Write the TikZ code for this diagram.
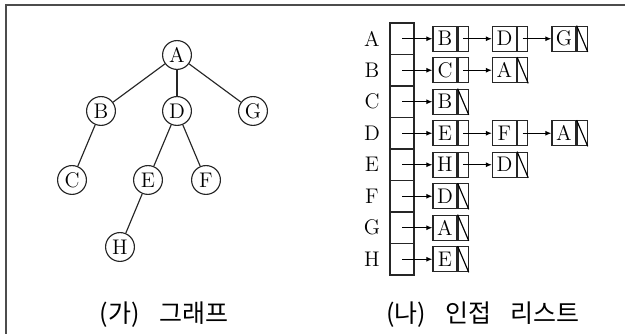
\documentclass[tikz,border=0pt]{standalone}
\usepackage{fontspec}
\newfontfamily\krfont{Noto Sans CJK KR}
\usetikzlibrary{arrows.meta, positioning}

\begin{document}
\begin{tikzpicture}[x=0.52pt, y=-0.52pt, >={Latex[length=3.2pt, width=2.6pt]}, font=\fontsize{11}{13}\selectfont]
		\tikzstyle{round} = [draw=black!85, circle, line width=0.6pt, minimum size=15pt, inner sep=0pt]
		\tikzstyle{cell} = [draw=black!85, rectangle, line width=0.6pt, minimum width=12.5pt, minimum height=16.4pt, inner sep=0pt]
		\tikzstyle{item} = [draw=black!85, rectangle, line width=0.6pt, minimum width=12.5pt, minimum height=13pt, inner sep=0pt]
		\tikzstyle{link} = [draw=black!85, rectangle, line width=0.6pt, minimum width=5.2pt, minimum height=13pt, inner sep=0pt]
		\tikzstyle{caption} = [font=\krfont\fontsize{13}{15}\selectfont]
		\tikzstyle{arrow} = [->, line width=0.55pt]
		
		\useasboundingbox (0,0) rectangle (625,334);
		\draw[line width=1pt, black!70] (625,5) -- (6,5) -- (6,334);
		
		% (ga) graph
		\node[round] 	at (177, 55)	(A) 	{A};
		\node[round] 	at (101, 111)	(B) 	{B};
		\node[round] 	at (177, 111)	(D) 	{D};
		\node[round] 	at (253, 111)	(G) 	{G};
		\node[round] 	at (72, 180)	(C) 	{C};
		\node[round] 	at (148, 180)	(E) 	{E};
		\node[round] 	at (206, 180)	(F) 	{F};
		\node[round] 	at (120, 247)	(H) 	{H};
		
		\path[line width=0.6pt, draw=black!85]
		(A) 	edge 	(B)
			edge 	(D)
			edge 	(G)
		(B) 	edge 	(C)
		(D) 	edge 	(E)
			edge 	(F)
		(E) 	edge 	(H);
		
		\node[caption] 	at (164, 315)	(cap1) 	{(가)\hspace{10pt}그래프};
		
		% (na) adjacency list
		\foreach \v/\lst/\n [count=\r, evaluate=\r as \y using 7.25+31.5*\r] in
			{A/{B,D,G}/3, B/{C,A}/2, C/{B}/1, D/{E,F,A}/3, E/{H,D}/2, F/{D}/1, G/{A}/1, H/{E}/1} {
			\node 		at (372, \y)	(l\v) 	{\v};
			\node[cell] 	at (402, \y)	(c\v) 	{};
			\foreach \w [count=\j, remember=\j as \i (initially 0)] in \lst {
				\node[item] 	at ({445+59.5*(\j-1)}, \y)	(d\v\j) 	{\w};
				\node[link, right=0pt of d\v\j] 	(p\v\j) 	{};
				\ifnum\i=0
					\draw[arrow] (c\v.center) -- (d\v\j);
				\else
					\draw[arrow] (p\v\i.center) -- (d\v\j);
				\fi
			}
			\draw[line width=0.6pt] (p\v\n.north west) -- (p\v\n.south east);
		}
		
		\node[caption] 	at (483, 315)	(cap2) 	{(나)\hspace{10pt}인접\hspace{10pt}리스트};
	\end{tikzpicture}
\end{document}
